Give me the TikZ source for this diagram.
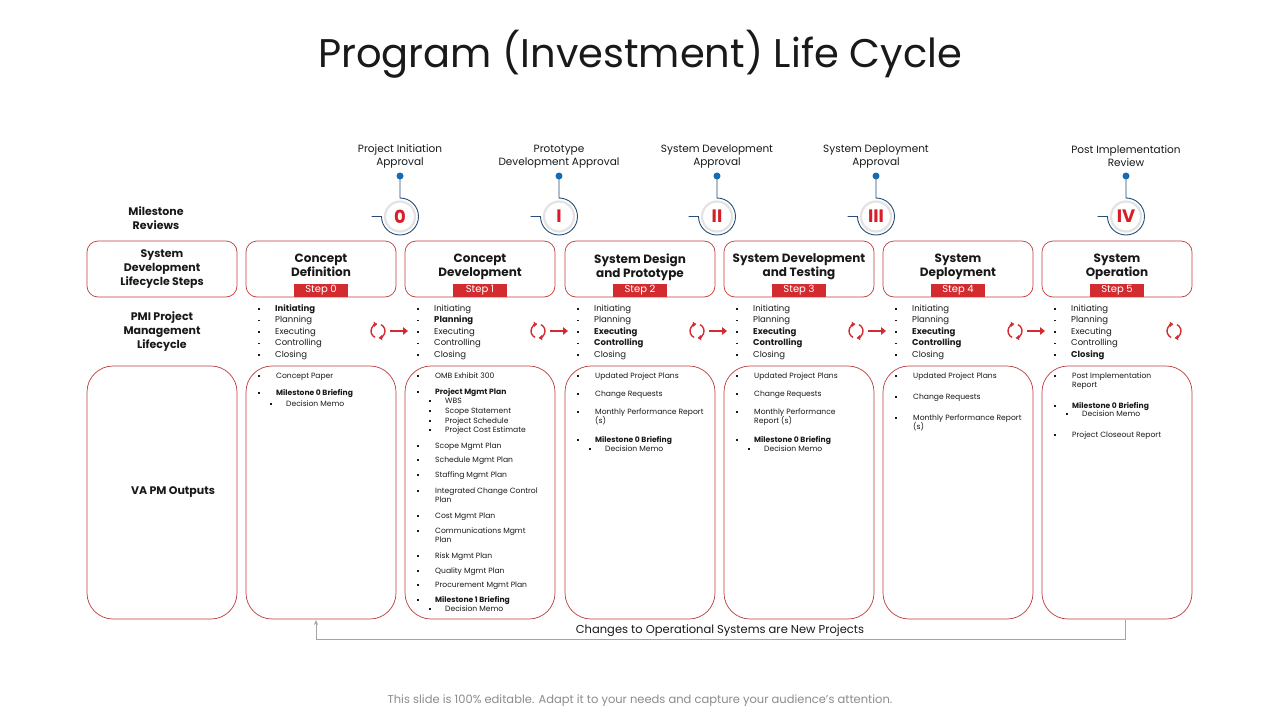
\documentclass[tikz,border=0pt]{standalone}
\usepackage{fontspec}
\setmainfont{Poppins}
\usetikzlibrary{arrows.meta}

\definecolor{boxred}{RGB}{190,60,62}
\definecolor{tagred}{RGB}{210,44,48}
\definecolor{numred}{RGB}{215,30,40}
\definecolor{pinblue}{RGB}{22,108,178}
\definecolor{ringblue}{RGB}{38,78,118}
\definecolor{inktext}{RGB}{25,25,25}
\definecolor{loopgray}{RGB}{165,165,165}
\definecolor{notegray}{RGB}{140,140,140}

% small square bullet hung to the left of a line
\newcommand{\sq}[1]{\llap{\rule[1.6pt]{1.3pt}{1.3pt}\hspace{#1}}}

\tikzset{
  rowbox/.style={draw=boxred, line width=0.7pt, rounded corners=11pt, outer sep=0pt,
    minimum width=150pt, minimum height=56pt, anchor=north west, inner sep=0pt},
  outbox/.style={rowbox, rounded corners=26pt, minimum height=253pt},
  steptitle/.style={font=\fontsize{12}{14}\selectfont\bfseries, align=center, text=inktext, anchor=north},
  steptag/.style={fill=tagred, text=white, font=\fontsize{10}{10}\selectfont,
    minimum width=54pt, minimum height=13pt, inner sep=0pt, anchor=south},
  rowlabel/.style={font=\fontsize{11}{14}\selectfont\bfseries, align=center, text=inktext},
  mslabel/.style={font=\fontsize{10.5}{13}\selectfont, align=center, text=inktext},
  msring/.style={circle, minimum size=37pt, inner sep=0pt, outer sep=0pt},
  msnum/.style={font=\fontsize{18}{18}\selectfont\bfseries, text=numred},
  ringline/.style={draw=ringblue, line width=0.9pt},
  pmim/.style={anchor=west, inner sep=0pt, text height=6.5pt, text depth=2pt,
    font=\fontsize{8.5}{9}\selectfont, text=inktext, execute at begin node={\sq{15.5pt}}},
  pmib/.style={pmim, font=\fontsize{8.5}{9}\selectfont\bfseries},
  cyclemark/.style={draw=tagred, line width=1.4pt, -{Triangle[length=3.5pt,width=5pt]}},
  pmiarrow/.style={draw=tagred, line width=2.4pt, -{Triangle[length=5pt,width=7.5pt]}},
  outline/.style={anchor=west, inner sep=0pt, text height=6pt, text depth=1.8pt,
    font=\fontsize{7.6}{8}\selectfont, text=inktext},
  outm/.style={outline, execute at begin node={\sq{16.5pt}}},
  outb/.style={outm, font=\fontsize{7.6}{8}\selectfont\bfseries},
  outc/.style={outline},
  outs/.style={outline, xshift=10pt, execute at begin node={\sq{14.5pt}}},
  feedback/.style={draw=loopgray, line width=0.7pt, -{Stealth[length=5pt,width=4pt]}}
}

\begin{document}
\begin{tikzpicture}[x=1pt, y=-1pt]
  \fill[white] (0,0) rectangle (1280,720);
  \useasboundingbox (0,0) rectangle (1280,720);

  \node[font=\fontsize{40}{40}\selectfont, text=inktext] (title) at (640,54) {Program (Investment) Life Cycle};

  % milestone reviews
  \node[rowlabel] (msrow) at (156,218) {Milestone\\Reviews};
  \foreach \x/\num/\txt [count=\n] in {400/0/{Project Initiation\\Approval}, 559/I/{Prototype\\Development Approval},
      717/II/{System Development\\Approval}, 876/III/{System Deployment\\Approval}, 1126/IV/{Post Implementation\\Review}}{
    \node[mslabel] (ml\n) at (\x,156.5) {\txt};
    \coordinate (pin\n) at (\x,176);
    \node[msring] (ms\n) at (\x,216.5) {};
    \draw[gray!22, line width=2.2pt] (ms\n) circle (15pt);
    \node[msnum] (mn\n) at (ms\n) {\num};
    \draw[ringline] (pin\n) -- (ms\n.north) arc[start angle=90, end angle=-180, radius=18.5pt] -- ++(-10pt,0);
    \fill[pinblue] (pin\n) circle (3.5pt);
  }

  % lifecycle steps
  \node[rowbox] (steps) at (87,241) {};
  \node[rowlabel] (stepslbl) at (steps.center) {System\\Development\\Lifecycle Steps};
  \foreach \L/\ttl [count=\n from 0] in {246/{Concept\\Definition}, 405/{Concept\\Development},
      565/{System Design\\and Prototype}, 724/{System Development\\and Testing},
      883/{System\\Deployment}, 1042/{System\\Operation}}{
    \node[rowbox] (st\n) at (\L,241) {};
    \node[steptitle] (stt\n) at (\L+75,250) {\ttl};
    \node[steptag] (tag\n) at (st\n.south) {Step \n};
  }

  % pmi lifecycle
  \node[rowlabel] (pmirow) at (162,332) {PMI Project\\Management\\Lifecycle};
  \foreach \L/\items in {246/{b/Initiating,m/Planning,m/Executing,m/Controlling,m/Closing},
      405/{m/Initiating,b/Planning,m/Executing,m/Controlling,m/Closing},
      565/{m/Initiating,m/Planning,b/Executing,b/Controlling,m/Closing},
      724/{m/Initiating,m/Planning,b/Executing,b/Controlling,m/Closing},
      883/{m/Initiating,m/Planning,b/Executing,b/Controlling,m/Closing},
      1042/{m/Initiating,m/Planning,m/Executing,m/Controlling,b/Closing}}
    \foreach \s/\w [count=\i] in \items
      \node[pmi\s] (p\L-\i) at (\L+29,297.5+11.5*\i) {\w};
  \foreach \x [count=\n] in {378,538,697,856,1015,1174}{
    \coordinate (cyc\n) at (\x,331);
    \draw[cyclemark] ([shift={(245:7pt)}]cyc\n) arc[start angle=245, end angle=95, radius=7pt];
    \draw[cyclemark] ([shift={(65:7pt)}]cyc\n) arc[start angle=65, end angle=-85, radius=7pt];
  }
  \foreach \n in {1,...,5}
    \draw[pmiarrow] ([xshift=12pt]cyc\n) -- ([xshift=30pt]cyc\n);

  % outputs
  \node[outbox] (outs) at (87,366) {};
  \node[rowlabel] (outslbl) at (173,492) {VA PM Outputs};
  \foreach \L/\items in {246/{m/376/Concept Paper, b/393/Milestone 0 Briefing, s/404/Decision Memo},
      405/{m/376/OMB Exhibit 300, b/392/Project Mgmt Plan, s/401/WBS, s/411/Scope Statement,
        s/421/Project Schedule, s/430/Project Cost Estimate, m/446/Scope Mgmt Plan,
        m/460/Schedule Mgmt Plan, m/475/Staffing Mgmt Plan, m/491/Integrated Change Control,
        c/500/Plan, m/516/Cost Mgmt Plan, m/531/Communications Mgmt, c/540/Plan,
        m/556/Risk Mgmt Plan, m/571/Quality Mgmt Plan, m/585/Procurement Mgmt Plan,
        b/600/Milestone 1 Briefing, s/609/Decision Memo},
      565/{m/376/Updated Project Plans, m/394/Change Requests, m/412/Monthly Performance Report,
        c/421/(s), b/440/Milestone 0 Briefing, s/449/Decision Memo},
      724/{m/376/Updated Project Plans, m/394/Change Requests, m/412/Monthly Performance,
        c/421/Report (s), b/440/Milestone 0 Briefing, s/449/Decision Memo},
      883/{m/376/Updated Project Plans, m/397/Change Requests, m/418/Monthly Performance Report,
        c/427/(s)},
      1042/{m/376/Post Implementation, c/385/Report, b/406/Milestone 0 Briefing,
        s/414/Decision Memo, m/435/Project Closeout Report}}{
    \node[outbox] (o\L) at (\L,366) {};
    \foreach \k/\y/\t [count=\i] in \items
      \node[out\k] (o\L-\i) at (\L+30,\y) {\t};
  }

  % feedback loop
  \coordinate (fbstart) at (1125,619.5);
  \coordinate (fbend) at (316,620);
  \draw[feedback] (fbstart) -- ++(0,20) -| (fbend);
  \node[font=\fontsize{11.5}{12}\selectfont, text=inktext] (fblbl) at (720,631) {Changes to Operational Systems are New Projects};

  \node[font=\fontsize{11.5}{12}\selectfont, text=notegray] (note) at (640,701) {This slide is 100\% editable. Adapt it to your needs and capture your audience's attention.};
\end{tikzpicture}
\end{document}
